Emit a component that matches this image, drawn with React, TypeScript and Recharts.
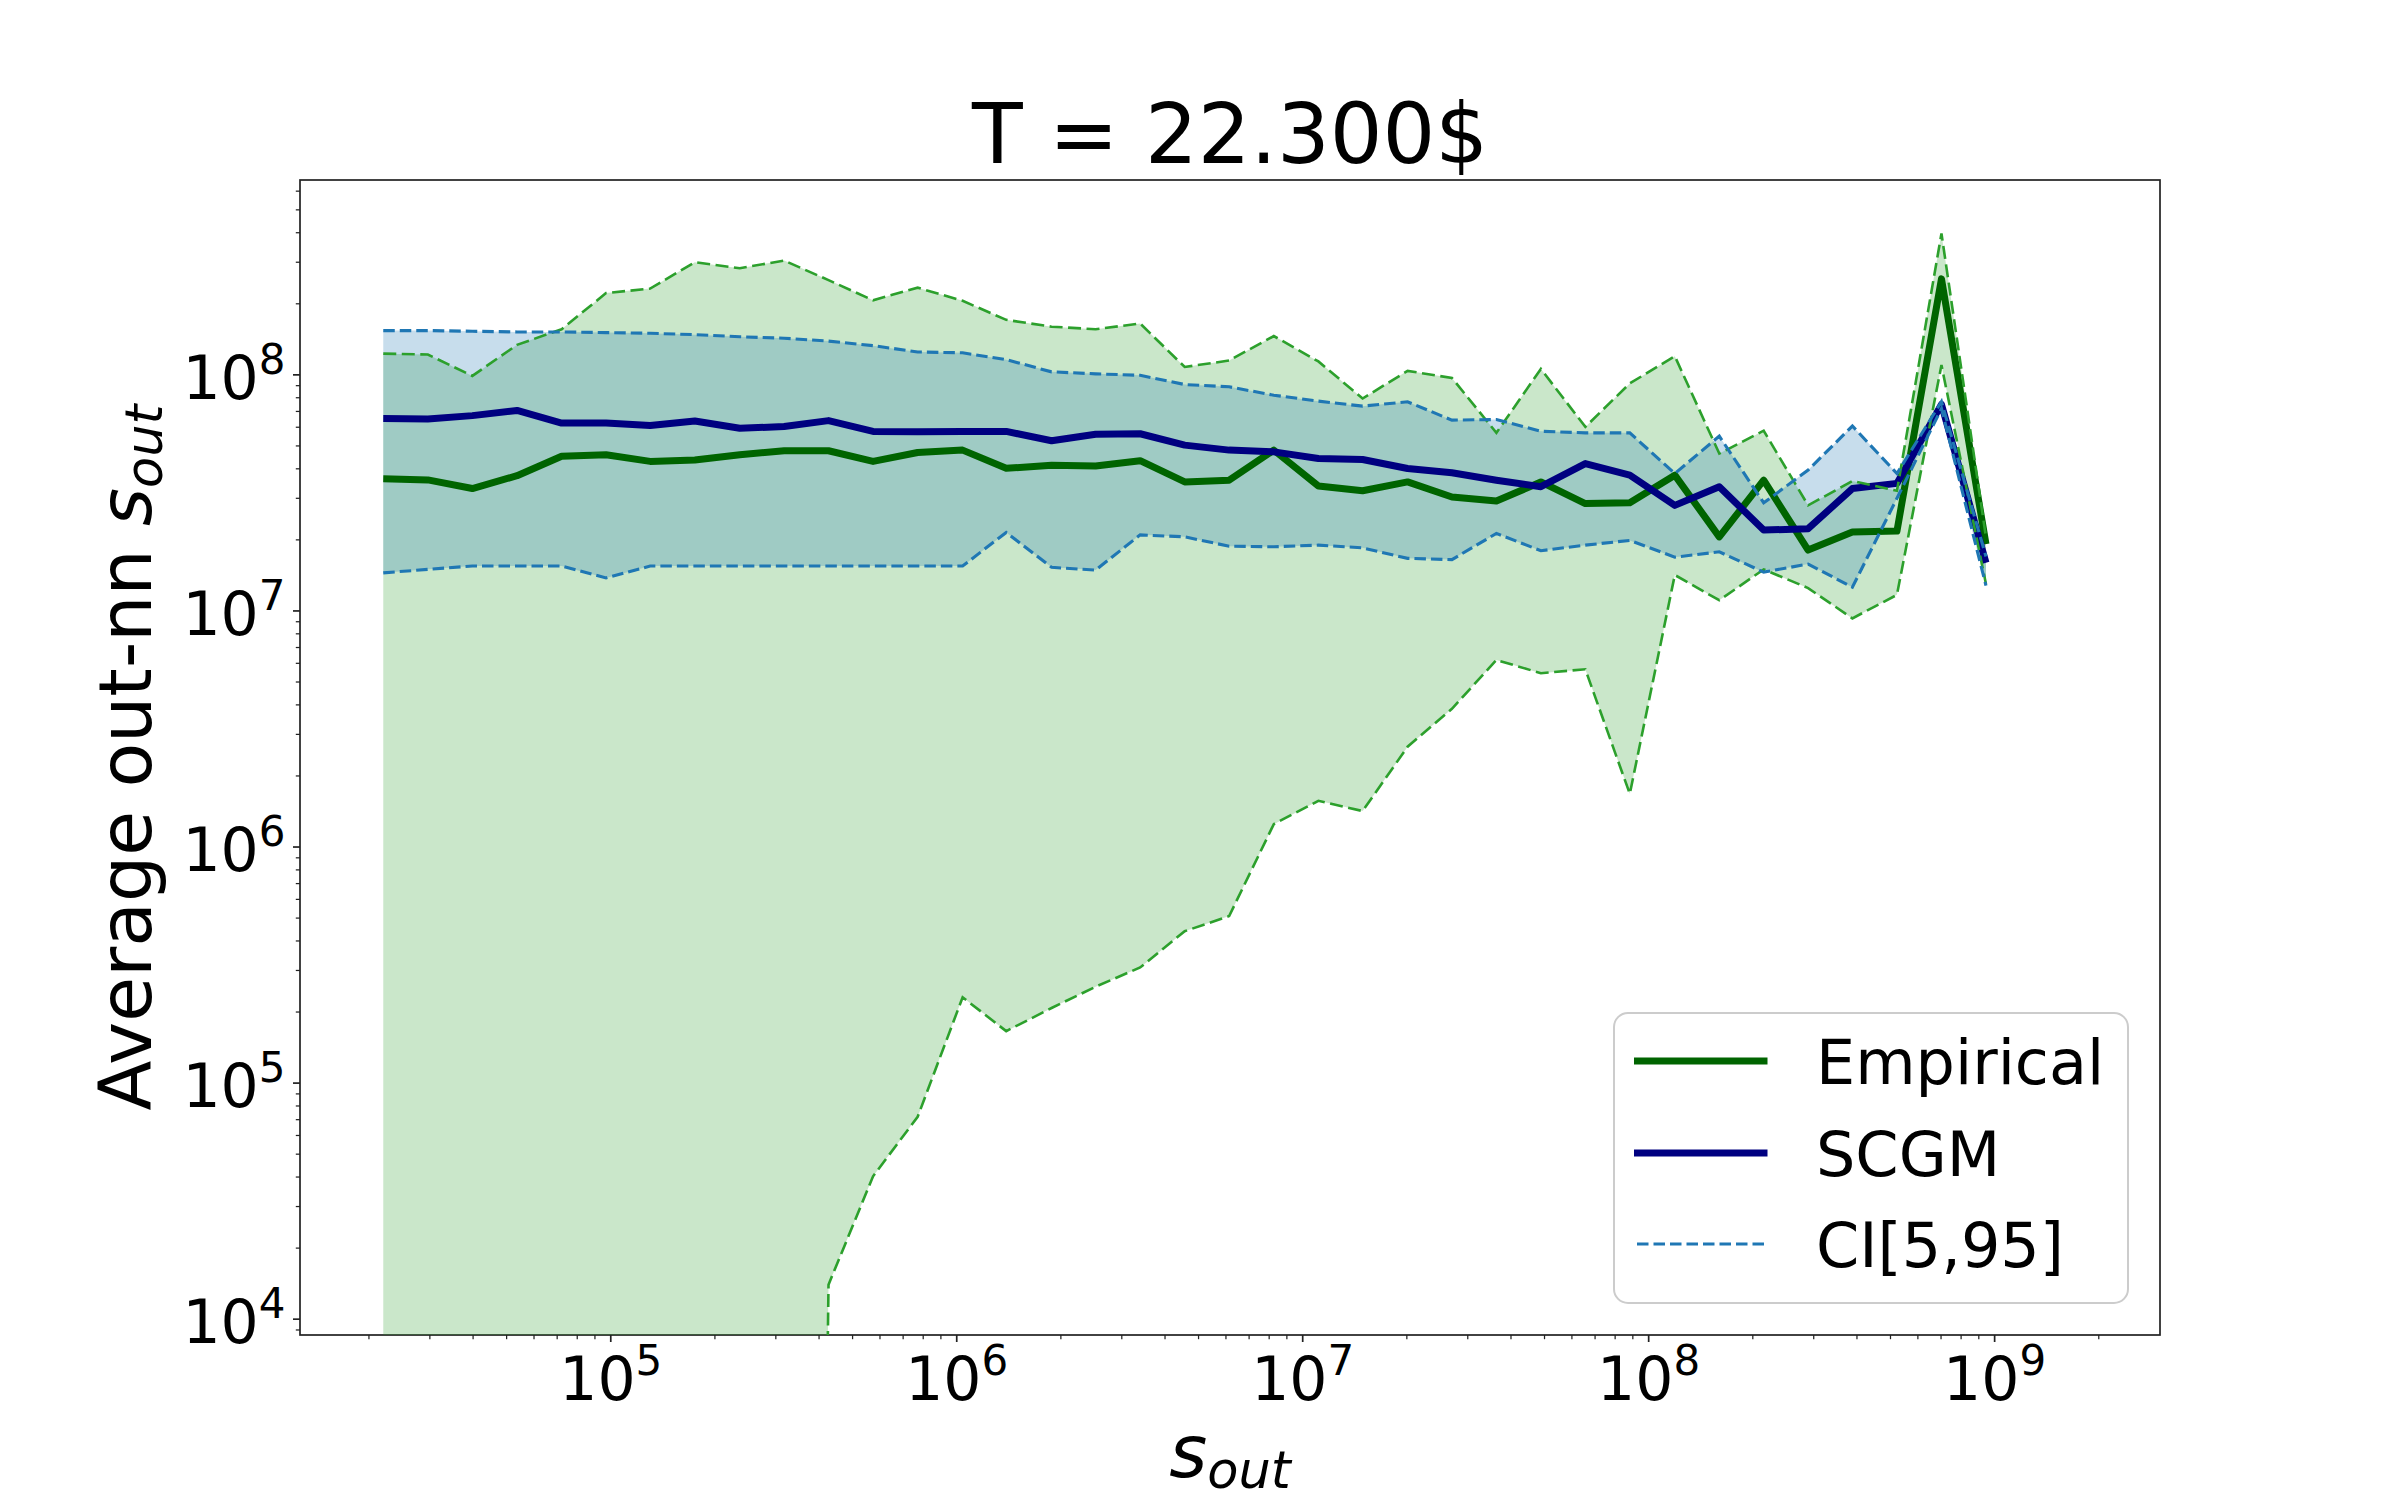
import { ComposedChart, XAxis, YAxis, Area, Line, Legend, Customized } from 'recharts'

// strength bins (x)
const sOut = [
  2.20e4, 2.96e4, 3.98e4, 5.36e4, 7.21e4, 9.69e4, 1.30e5, 1.75e5, 2.36e5, 3.17e5,
  4.26e5, 5.73e5, 7.71e5, 1.04e6, 1.39e6, 1.88e6, 2.52e6, 3.39e6, 4.56e6, 6.13e6,
  8.25e6, 1.11e7, 1.49e7, 2.01e7, 2.70e7, 3.63e7, 4.88e7, 6.56e7, 8.82e7, 1.19e8,
  1.60e8, 2.15e8, 2.89e8, 3.88e8, 5.22e8, 7.02e8, 9.44e8,
]

const empiricalMean = [
  3.63e7, 3.59e7, 3.30e7, 3.74e7, 4.52e7, 4.59e7, 4.30e7, 4.36e7, 4.59e7, 4.77e7,
  4.77e7, 4.30e7, 4.69e7, 4.80e7, 4.02e7, 4.14e7, 4.11e7, 4.33e7, 3.52e7, 3.58e7,
  4.80e7, 3.38e7, 3.23e7, 3.52e7, 3.04e7, 2.92e7, 3.52e7, 2.85e7, 2.87e7, 3.76e7,
  2.06e7, 3.58e7, 1.81e7, 2.16e7, 2.18e7, 2.55e8, 1.92e7,
]

const scgmMean = [
  6.53e7, 6.50e7, 6.72e7, 7.07e7, 6.25e7, 6.25e7, 6.10e7, 6.38e7, 5.94e7, 6.04e7,
  6.40e7, 5.76e7, 5.74e7, 5.76e7, 5.76e7, 5.26e7, 5.60e7, 5.63e7, 5.04e7, 4.80e7,
  4.72e7, 4.42e7, 4.38e7, 4.01e7, 3.85e7, 3.58e7, 3.36e7, 4.21e7, 3.76e7, 2.80e7,
  3.36e7, 2.20e7, 2.23e7, 3.30e7, 3.47e7, 7.50e7, 1.60e7,
]

const empiricalHigh = [
  1.23e8, 1.22e8, 9.90e7, 1.34e8, 1.56e8, 2.22e8, 2.32e8, 3.00e8, 2.83e8, 3.05e8,
  2.52e8, 2.07e8, 2.34e8, 2.06e8, 1.71e8, 1.60e8, 1.56e8, 1.65e8, 1.08e8, 1.15e8,
  1.46e8, 1.14e8, 7.94e7, 1.04e8, 9.70e7, 5.68e7, 1.06e8, 6.02e7, 9.20e7, 1.20e8,
  4.64e7, 5.80e7, 2.80e7, 3.55e7, 3.23e7, 3.97e8, 2.05e7,
]

// first ten bins are zero in the source; kept tiny and positive for the log scale
const empiricalLow = [
  1e-10, 1e-10, 1e-10, 1e-10, 1e-10, 1e-10, 1e-10, 1e-10, 1e-10, 1e-10,
  1.40e4, 4.03e4, 7.20e4, 2.31e5, 1.66e5, 2.08e5, 2.56e5, 3.09e5, 4.40e5, 5.10e5,
  1.25e6, 1.57e6, 1.42e6, 2.66e6, 3.85e6, 6.20e6, 5.45e6, 5.66e6, 1.68e6, 1.42e7,
  1.11e7, 1.50e7, 1.25e7, 9.30e6, 1.17e7, 1.10e8, 1.30e7,
]

const ciHigh = [
  1.54e8, 1.54e8, 1.53e8, 1.52e8, 1.52e8, 1.51e8, 1.50e8, 1.48e8, 1.45e8, 1.43e8,
  1.39e8, 1.33e8, 1.25e8, 1.24e8, 1.16e8, 1.03e8, 1.01e8, 9.96e7, 9.10e7, 8.90e7,
  8.20e7, 7.74e7, 7.37e7, 7.69e7, 6.43e7, 6.47e7, 5.77e7, 5.68e7, 5.68e7, 3.82e7,
  5.50e7, 2.87e7, 3.95e7, 6.07e7, 3.82e7, 7.70e7, 1.70e7,
]

const ciLow = [
  1.45e7, 1.50e7, 1.55e7, 1.55e7, 1.55e7, 1.38e7, 1.55e7, 1.55e7, 1.55e7, 1.55e7,
  1.55e7, 1.55e7, 1.55e7, 1.55e7, 2.15e7, 1.53e7, 1.49e7, 2.10e7, 2.06e7, 1.88e7,
  1.87e7, 1.90e7, 1.85e7, 1.67e7, 1.65e7, 2.13e7, 1.80e7, 1.90e7, 1.99e7, 1.69e7,
  1.78e7, 1.46e7, 1.58e7, 1.26e7, 3.00e7, 7.20e7, 1.28e7,
]

const X_MAJOR = [1e5, 1e6, 1e7, 1e8, 1e9]
const X_MINOR = [
  2e4, 3e4, 4e4, 5e4, 6e4, 7e4, 8e4, 9e4,
  2e5, 3e5, 4e5, 5e5, 6e5, 7e5, 8e5, 9e5,
  2e6, 3e6, 4e6, 5e6, 6e6, 7e6, 8e6, 9e6,
  2e7, 3e7, 4e7, 5e7, 6e7, 7e7, 8e7, 9e7,
  2e8, 3e8, 4e8, 5e8, 6e8, 7e8, 8e8, 9e8,
  2e9,
]
const Y_MAJOR = [1e4, 1e5, 1e6, 1e7, 1e8]
const Y_MINOR = [
  9e3,
  2e4, 3e4, 4e4, 5e4, 6e4, 7e4, 8e4, 9e4,
  2e5, 3e5, 4e5, 5e5, 6e5, 7e5, 8e5, 9e5,
  2e6, 3e6, 4e6, 5e6, 6e6, 7e6, 8e6, 9e6,
  2e7, 3e7, 4e7, 5e7, 6e7, 7e7, 8e7, 9e7,
  2e8, 3e8, 4e8, 5e8, 6e8,
]

const X_DOMAIN = [12640, 3.006e9]
const Y_DOMAIN = [8570, 6.69e8]

const TITLE = 'T = 22.300$'
const LEGEND_ITEMS = ['Empirical', 'SCGM', 'CI[5,95]']

// layout
const W = 2400
const H = 1500
const MARGIN = { top: 180, right: 240, bottom: 0, left: 0 }
const Y_AXIS_W = 300
const X_AXIS_H = 165
const PLOT_LEFT = MARGIN.left + Y_AXIS_W
const PLOT_TOP = MARGIN.top
const PLOT_RIGHT = W - MARGIN.right
const PLOT_BOTTOM = H - MARGIN.bottom - X_AXIS_H

const FONT = "'DejaVu Sans', sans-serif"
const SPINE = '#222222'
const GREEN = '#006400'
const NAVY = '#000080'
const TAB_GREEN = '#2ca02c'
const TAB_BLUE = '#1f77b4'
const THICK = 7

const rows = sOut.map((s, i) => ({
  s,
  empirical: empiricalMean[i],
  scgm: scgmMean[i],
  empLow: empiricalLow[i],
  empHigh: empiricalHigh[i],
  ciLow: ciLow[i],
  ciHigh: ciHigh[i],
  empBand: [empiricalLow[i], empiricalHigh[i]],
  ciBand: [ciLow[i], ciHigh[i]],
}))

const xTicks = [...X_MAJOR, ...X_MINOR].sort((a, b) => a - b)
const yTicks = [...Y_MAJOR, ...Y_MINOR].sort((a, b) => a - b)

function XTick(props: any) {
  const { x, payload } = props
  const v = payload.value
  const major = X_MAJOR.includes(v)
  return (
    <g>
      <line
        x1={x} x2={x}
        y1={PLOT_BOTTOM} y2={PLOT_BOTTOM + (major ? 7 : 4.2)}
        stroke={SPINE} strokeWidth={major ? 1.7 : 1.25}
      />
      {major && (
        <text x={x} y={PLOT_BOTTOM + 65} textAnchor="middle" fontSize={60} fontFamily={FONT} fill="#000">
          10<tspan dy={-25} fontSize={42}>{Math.round(Math.log10(v))}</tspan>
        </text>
      )}
    </g>
  )
}

function YTick(props: any) {
  const { y, payload } = props
  const v = payload.value
  const major = Y_MAJOR.includes(v)
  return (
    <g>
      <line
        x1={PLOT_LEFT - (major ? 7 : 4.2)} x2={PLOT_LEFT}
        y1={y} y2={y}
        stroke={SPINE} strokeWidth={major ? 1.7 : 1.25}
      />
      {major && (
        <text x={PLOT_LEFT - 14.5} y={y + 24} textAnchor="end" fontSize={60} fontFamily={FONT} fill="#000">
          10<tspan dy={-25} fontSize={42}>{Math.round(Math.log10(v))}</tspan>
        </text>
      )}
    </g>
  )
}

// title, frame and axis labels
function Decorations() {
  const cx = (PLOT_LEFT + PLOT_RIGHT) / 2
  const cy = (PLOT_TOP + PLOT_BOTTOM) / 2
  return (
    <g fontFamily={FONT} fill="#000">
      <text x={cx} y={163} textAnchor="middle" fontSize={83}>{TITLE}</text>
      <rect
        x={PLOT_LEFT} y={PLOT_TOP}
        width={PLOT_RIGHT - PLOT_LEFT} height={PLOT_BOTTOM - PLOT_TOP}
        fill="none" stroke={SPINE} strokeWidth={1.7}
      />
      <text x={cx} y={1477} textAnchor="middle" fontSize={73}>
        <tspan fontStyle="italic">s</tspan>
        <tspan fontStyle="italic" fontSize={51} dy={11}>out</tspan>
      </text>
      <text transform={`translate(151, ${cy}) rotate(-90)`} textAnchor="middle" fontSize={73}>
        Average out-nn <tspan fontStyle="italic">s</tspan>
        <tspan fontStyle="italic" fontSize={51} dy={11}>out</tspan>
      </text>
    </g>
  )
}

function LegendBox() {
  const rowsY = [49, 141, 232]
  return (
    <svg width={516} height={292} style={{ display: 'block', fontFamily: FONT }}>
      <rect x={1} y={1} width={514} height={290} rx={14} ry={14} fill="#fff" fillOpacity={0.8} stroke="#cccccc" strokeWidth={2} />
      <line x1={24.5} x2={151} y1={rowsY[0]} y2={rowsY[0]} stroke={GREEN} strokeWidth={THICK} strokeLinecap="square" />
      <line x1={24.5} x2={151} y1={rowsY[1]} y2={rowsY[1]} stroke={NAVY} strokeWidth={THICK} strokeLinecap="square" />
      <line x1={24} x2={152} y1={rowsY[2]} y2={rowsY[2]} stroke={TAB_BLUE} strokeWidth={3.1} strokeDasharray="11.5 5" />
      {LEGEND_ITEMS.map((label, i) => (
        <text key={label} x={203} y={rowsY[i] + 23} fontSize={62} fill="#000">{label}</text>
      ))}
    </svg>
  )
}

export default function App() {
  return (
    <div style={{ position: 'absolute', left: 0, top: 0, width: W, height: H, background: '#fff' }}>
      <ComposedChart width={W} height={H} data={rows} margin={MARGIN} style={{ fontFamily: FONT }}>
        <XAxis
          dataKey="s"
          type="number"
          scale="log"
          domain={X_DOMAIN}
          allowDataOverflow
          ticks={xTicks}
          interval={0}
          tick={XTick}
          tickLine={false}
          axisLine={false}
          height={X_AXIS_H}
        />
        <YAxis
          type="number"
          scale="log"
          domain={Y_DOMAIN}
          allowDataOverflow
          ticks={yTicks}
          interval={0}
          tick={YTick}
          tickLine={false}
          axisLine={false}
          width={Y_AXIS_W}
        />

        <Area
          dataKey="empBand"
          type="linear"
          fill={TAB_GREEN}
          fillOpacity={0.25}
          stroke="none"
          isAnimationActive={false}
          activeDot={false}
          legendType="none"
        />
        <Area
          dataKey="ciBand"
          type="linear"
          fill={TAB_BLUE}
          fillOpacity={0.25}
          stroke="none"
          isAnimationActive={false}
          activeDot={false}
          legendType="none"
        />

        <Line dataKey="empirical" type="linear" stroke={GREEN} strokeWidth={THICK} strokeLinejoin="round" dot={false} activeDot={false} isAnimationActive={false} />
        <Line dataKey="scgm" type="linear" stroke={NAVY} strokeWidth={THICK} strokeLinejoin="round" dot={false} activeDot={false} isAnimationActive={false} />

        <Line dataKey="empLow" type="linear" stroke={TAB_GREEN} strokeWidth={2.6} strokeDasharray="13 5.5" dot={false} activeDot={false} isAnimationActive={false} legendType="none" />
        <Line dataKey="empHigh" type="linear" stroke={TAB_GREEN} strokeWidth={2.6} strokeDasharray="13 5.5" dot={false} activeDot={false} isAnimationActive={false} legendType="none" />
        <Line dataKey="ciLow" type="linear" stroke={TAB_BLUE} strokeWidth={3.1} strokeDasharray="11.5 5" dot={false} activeDot={false} isAnimationActive={false} />
        <Line dataKey="ciHigh" type="linear" stroke={TAB_BLUE} strokeWidth={3.1} strokeDasharray="11.5 5" dot={false} activeDot={false} isAnimationActive={false} legendType="none" />

        <Customized component={Decorations} />

        <Legend
          layout="vertical"
          align="center"
          verticalAlign="middle"
          wrapperStyle={{ left: 1613, top: 1012, width: 516, height: 292 }}
          content={() => <LegendBox />}
        />
      </ComposedChart>
    </div>
  )
}
